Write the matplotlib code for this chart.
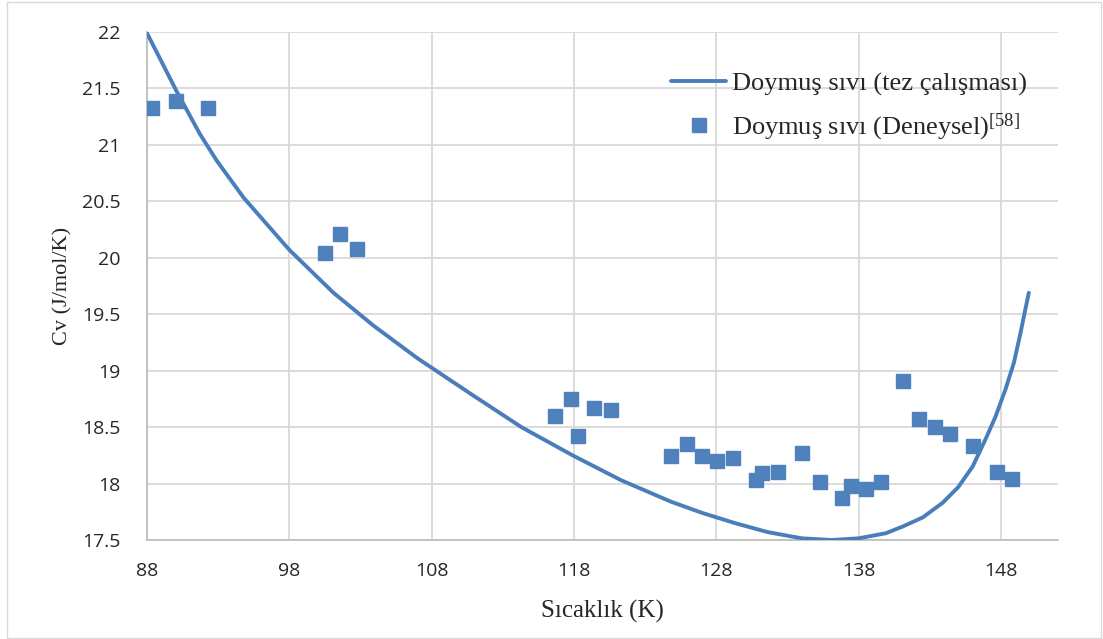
import matplotlib
matplotlib.use("Agg")
import matplotlib.pyplot as plt
from matplotlib.patches import Rectangle

# Model curve: saturated liquid (thesis)
curve_T = [88.0, 90.1, 91.7, 92.9, 94.8, 98.0, 101.1, 103.9, 107.0, 110.8,
           114.3, 117.9, 121.3, 124.8, 127.0, 129.3, 131.6, 134.0, 136.1,
           138.0, 139.9, 141.1, 142.5, 143.9, 145.0, 146.0, 146.9, 147.6,
           148.3, 148.9, 149.36, 149.7, 149.95]
curve_cv = [21.99, 21.47, 21.10, 20.86, 20.53, 20.07, 19.69, 19.40, 19.11, 18.79,
            18.50, 18.25, 18.03, 17.84, 17.74, 17.65, 17.57, 17.515, 17.50,
            17.515, 17.56, 17.62, 17.70, 17.83, 17.97, 18.15, 18.39, 18.59,
            18.83, 19.07, 19.33, 19.54, 19.69]

# Experimental points
exp_T = [88.33, 90.04, 92.3, 100.54, 101.59, 102.72,
         116.64, 117.77, 118.26, 119.41, 120.61,
         124.83, 125.94, 127.01, 128.05, 129.18,
         130.75, 131.24, 132.35, 133.99, 135.26, 136.85, 137.44, 138.49, 139.6,
         141.1, 142.23, 143.35, 144.41, 146.03, 147.72, 148.77]
exp_cv = [21.33, 21.39, 21.33, 20.04, 20.21, 20.08,
          18.60, 18.75, 18.42, 18.67, 18.65,
          18.24, 18.35, 18.24, 18.20, 18.23,
          18.03, 18.09, 18.10, 18.27, 18.01, 17.87, 17.98, 17.95, 18.01,
          18.91, 18.57, 18.50, 18.44, 18.33, 18.10, 18.04]

x_ticks = [88, 98, 108, 118, 128, 138, 148]
y_ticks = [17.5, 18, 18.5, 19, 19.5, 20, 20.5, 21, 21.5, 22]
y_tick_labels = ["17.5", "18", "18.5", "19", "19.5", "20", "20.5", "21", "21.5", "22"]

label_line = "Doymuş sıvı (tez çalışması)"
label_pts = "Doymuş sıvı (Deneysel)$^{[58]}$"
xlabel = "Sıcaklık (K)"
ylabel = "Cv (J/mol/K)"

plt.rcParams['mathtext.fontset'] = 'custom'
plt.rcParams['mathtext.rm'] = 'Liberation Serif'
plt.rcParams['mathtext.it'] = 'Liberation Serif'

W, H = 1103, 639
fig = plt.figure(figsize=(W / 100, H / 100), dpi=100)
ax = fig.add_axes([147 / W, 1 - 540 / H, (1058 - 147) / W, (540 - 32) / H])

blue = "#4A7EBB"
ax.plot(curve_T, curve_cv, color=blue, lw=2.8, label=label_line, zorder=3,
        solid_capstyle='round', solid_joinstyle='round')
ax.plot(exp_T, exp_cv, linestyle='none', marker='s', ms=10, color="#4F81BD",
        mec="#4F81BD", label=label_pts, zorder=4)

ax.set_xlim(88, 152)
ax.set_ylim(17.5, 22)
ax.set_xticks(x_ticks)
ax.set_yticks(y_ticks)
ax.set_yticklabels(y_tick_labels)
ax.grid(True, color="#D9D9D9", lw=1.3, zorder=0)
ax.set_axisbelow(True)
for s in ['top', 'right']:
    ax.spines[s].set_visible(False)
ax.spines['left'].set_color("#BFBFBF")
ax.spines['bottom'].set_color("#BFBFBF")
ax.spines['left'].set_linewidth(1.3)
ax.spines['bottom'].set_linewidth(1.3)
ax.tick_params(axis='both', length=0, labelsize=14, colors="#404040")
ax.tick_params(axis='y', pad=19)
ax.tick_params(axis='x', pad=16)
for t in ax.get_xticklabels() + ax.get_yticklabels():
    t.set_fontfamily("Open Sans")
    t.set_color("#262626")

ax.set_xlabel(xlabel, fontsize=18, family="Liberation Serif", color="#262626", labelpad=14)
ax.set_ylabel(ylabel, fontsize=16, family="Liberation Serif", color="#262626", labelpad=7)

leg = ax.legend(loc='upper left', bbox_to_anchor=(671 / W, 1 - 72 / H),
                bbox_transform=fig.transFigure, frameon=False,
                prop={'family': 'Liberation Serif', 'size': 19},
                handlelength=2.1, handletextpad=0.2, labelspacing=0.6,
                borderpad=0, borderaxespad=0)
for t in leg.get_texts():
    t.set_color("#262626")

fig.patches.append(Rectangle((7 / W, 1 / H), (1101 - 7) / W, (637 - 1) / H,
                             transform=fig.transFigure, fill=False,
                             edgecolor="#D9D9D9", lw=1.0))

fig.savefig("out.png", dpi=100)
